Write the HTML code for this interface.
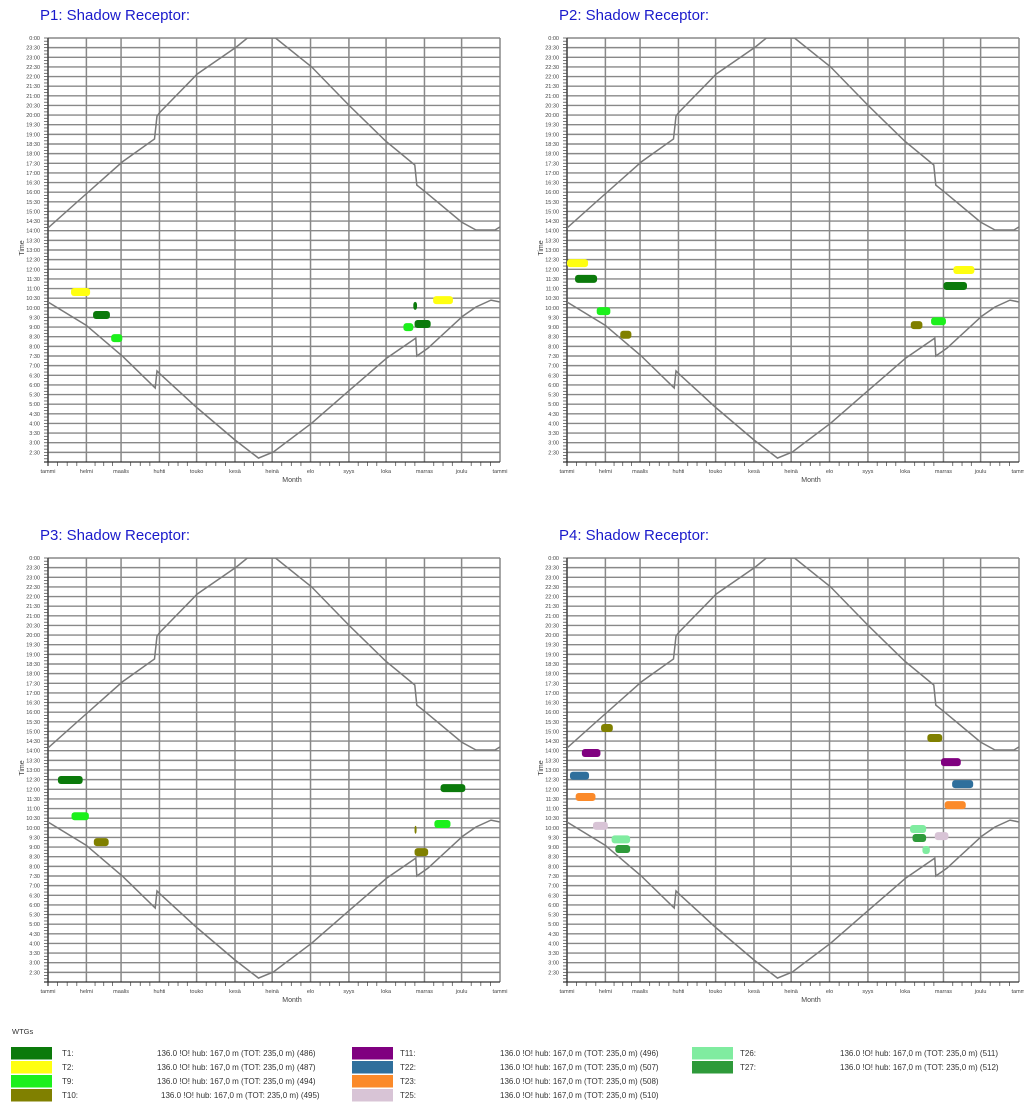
<!DOCTYPE html>
<html><head><meta charset="utf-8">
<style>
html,body{margin:0;padding:0;background:#fff;}
svg{display:block;font-family:"Liberation Sans",sans-serif;}
</style></head>
<body>
<svg id="root" width="1024" height="1115" viewBox="0 0 1024 1115" xmlns="http://www.w3.org/2000/svg">
<rect x="0" y="0" width="1024" height="1115" fill="#fff"/>
</svg>
<script>
// ---- data ----
const months = ["tammi","helmi","maalis","huhti","touko","kesä","heinä","elo","syys","loka","marras","joulu","tammi"];
const monthDays = [0,31,59,90,120,151,181,212,243,273,304,334,365];
const timeTicks = [24,23.5,23,22.5,22,21.5,21,20.5,20,19.5,19,18.5,18,17.5,17,16.5,16,15.5,15,14.5,14,13.5,13,12.5,12,11.5,11,10.5,10,9.5,9,8.5,8,7.5,7,6.5,6,5.5,5,4.5,4,3.5,3,2.5];
// upper sun curve (day, hour)
const sunsetDays  = [0,28,60,86,88,90.6,120.6,152,161,183.7,212.9,243.6,272.7,296.2,297.8,305,334,345.6,361,365];
const sunsetHours = [14.14,15.75,17.57,18.76,19.95,20.16,22.13,23.53,24,24,22.5,20.47,18.65,17.41,16.37,16.0,14.45,14.04,14.04,14.2];
// lower sun curve
const sunriseDays  = [0,30.8,60,86.6,88,90.6,120.6,151,170,182,213,243.6,273.5,297,297.8,306.7,335,345.6,357.7,365];
const sunriseHours = [10.3,9.1,7.5,5.84,6.72,6.56,4.8,3.14,2.2,2.52,4.02,5.73,7.39,8.43,7.5,7.9,9.57,10.04,10.4,10.3];
// turbines
const turbineNames = ["T1","T2","T9","T10","T11","T22","T23","T25","T26","T27"];
const turbineColors = ["#0b7a0b","#ffff10","#1cf01c","#808000","#800080","#2f6f9c","#fb8a2a","#d8c4d6","#80eca0","#2e9a3a"];
const turbineIds = [486,487,494,495,496,507,508,510,511,512];
// shadow periods per panel: [turbine, startDay, endDay, hour]
const p1Periods = [["T2",18.6,34,10.82],["T1",36.4,50,9.63],["T9",51,60,8.43],["T9",287,295,9.0],["T1",295,298,10.1],["T1",296,309,9.16],["T2",311,327,10.4]];
const p2Periods = [["T2",0,17,12.32],["T1",6.5,24.3,11.5],["T9",24,35,9.83],["T10",43,52,8.6],["T10",277.6,287,9.1],["T9",294,306,9.3],["T1",304,323,11.13],["T2",312,329,11.96]];
const p3Periods = [["T1",8,28,12.48],["T9",19,33,10.6],["T10",37,49,9.26],["T10",296,297,9.9],["T10",296,307,8.74],["T9",312,325,10.2],["T1",317,337,12.06]];
const p4Periods = [["T10",27.5,37,15.18],["T11",12,27,13.88],["T22",2.4,17.8,12.7],["T23",7,23,11.6],["T25",21,33,10.1],["T26",36,51,9.4],["T27",39,51,8.9],["T10",291,303,14.66],["T11",302,318,13.41],["T22",311,328,12.27],["T23",305,322,11.18],["T26",277,290,9.94],["T25",297,308,9.57],["T27",279,290,9.47],["T26",287,293,8.85]];
const panelTitles = ["P1: Shadow Receptor:","P2: Shadow Receptor:","P3: Shadow Receptor:","P4: Shadow Receptor:"];
const panelPeriods = [p1Periods,p2Periods,p3Periods,p4Periods];

// ---- drawing ----
const NS = "http://www.w3.org/2000/svg";
const root = document.getElementById("root");
function mk(tag, attrs, parent, text){
  const e = document.createElementNS(NS, tag);
  for (const k in attrs) e.setAttribute(k, attrs[k]);
  if (text !== undefined) e.textContent = text;
  parent.appendChild(e);
  return e;
}
const offsets = [[0,0],[519,0],[0,520],[519,520]];
const PL=48, PT=38, PW=452, PH=424;
panelTitles.forEach((title, pi) => {
  const [ox, oy] = offsets[pi];
  const g = mk("g", {transform:`translate(${ox},${oy})`}, root);
  
  
  const xS = d => PL + d / 365 * PW;
  const yS = h => PT + (24 - h) / 22 * PH;
  const t = mk("text", {x:40, y:20, "font-size":15, fill:"#1a1acc"}, g, title);
  
  
  timeTicks.forEach(h => {
    const y = yS(h);
    const l = mk("line", {x1:PL, x2:PL+PW, y1:y, y2:y, stroke:"#888", "stroke-width":1.4}, g);
    
    
    const hh = Math.floor(h) % 24, mm = (h % 1) ? "30" : "00";
    const lab = mk("text", {x:PL-8, y:y+2, "font-size":5.5, "text-anchor":"end", fill:"#444"}, g, hh + ":" + mm);
    
    
    for (let k=0;k<3;k++){
      const ty = yS(h - k/6);
      mk("line", {x1:PL-4, x2:PL, y1:ty, y2:ty, stroke:"#555", "stroke-width":0.8}, g);
    }
  });
  monthDays.forEach((d, i) => {
    const x = xS(d);
    const l = mk("line", {x1:x, x2:x, y1:PT, y2:PT+PH, stroke:"#888", "stroke-width":1.5}, g);
    
    
    const lab = mk("text", {x:x, y:PT+PH+11, "font-size":5.5, "text-anchor":"middle", fill:"#444"}, g, months[i]);
    
    
    if (i < 12) for (let k=1;k<4;k++){
      const tx = xS(d + (monthDays[i+1]-d)*k/4);
      mk("line", {x1:tx, x2:tx, y1:PT+PH, y2:PT+PH+4, stroke:"#555", "stroke-width":0.8}, g);
    }
  });
  mk("line", {x1:PL, x2:PL, y1:PT, y2:PT+PH+4, stroke:"#333", "stroke-width":1.2}, g);
  mk("line", {x1:PL-4, x2:PL+PW, y1:PT+PH, y2:PT+PH, stroke:"#333", "stroke-width":1.2}, g);
  const xt = mk("text", {x:PL+PW/2+18, y:PT+PH+20, "font-size":7, "text-anchor":"middle", fill:"#444"}, g, "Month");
  
  
  const yt = mk("text", {x:0, y:0, "font-size":7, "text-anchor":"middle", fill:"#444", transform:`translate(24,${PT+210}) rotate(-90)`}, g, "Time");
  
  
  const cp = mk("clipPath", {id:"clip"+pi}, g);
  mk("rect", {x:PL, y:PT, width:PW, height:PH}, cp);
  [[sunsetDays,sunsetHours,"sunset-curve"],[sunriseDays,sunriseHours,"sunrise-curve"]].forEach(([ds,hs,nm]) => {
    const pts = ds.map((d,i) => xS(d).toFixed(1)+","+yS(hs[i]).toFixed(1)).join(" ");
    const pl = mk("polyline", {points:pts, fill:"none", stroke:"#7a7a7a", "stroke-width":1.5, "clip-path":`url(#clip${pi})`}, g);
    
    
  });
  panelPeriods[pi].forEach(([tn, s, e, h]) => {
    const ci = turbineNames.indexOf(tn);
    const x1 = xS(s), x2 = xS(e);
    const r = mk("rect", {x:x1, y:yS(h)-4, width:Math.max(2, x2-x1), height:8, rx:3, fill:turbineColors[ci]}, g);
    
    
  });
});
const lg = mk("g", {}, root);


const lt = mk("text", {x:12, y:1034, "font-size":7.5, fill:"#333"}, lg, "WTGs");


const colX = [[11,62,157],[352,400,500],[692,740,840]];
turbineNames.forEach((tn, i) => {
  const col = Math.floor(i/4), row = i%4;
  const [sx, lx, dx] = colX[col];
  const y = 1047 + row*14;
  const eg = mk("g", {}, lg);
  
  
  mk("rect", {x:sx, y:y, width:41, height:12.5, fill:turbineColors[i]}, eg);
  mk("text", {x:lx, y:y+9, "font-size":8, fill:"#333"}, eg, tn + ":");
  mk("text", {x:dx + (i===3?4:0), y:y+9, "font-size":8, fill:"#333"}, eg, "136.0 !O! hub: 167,0 m (TOT: 235,0 m) (" + turbineIds[i] + ")");
});
</script>
</body></html>
